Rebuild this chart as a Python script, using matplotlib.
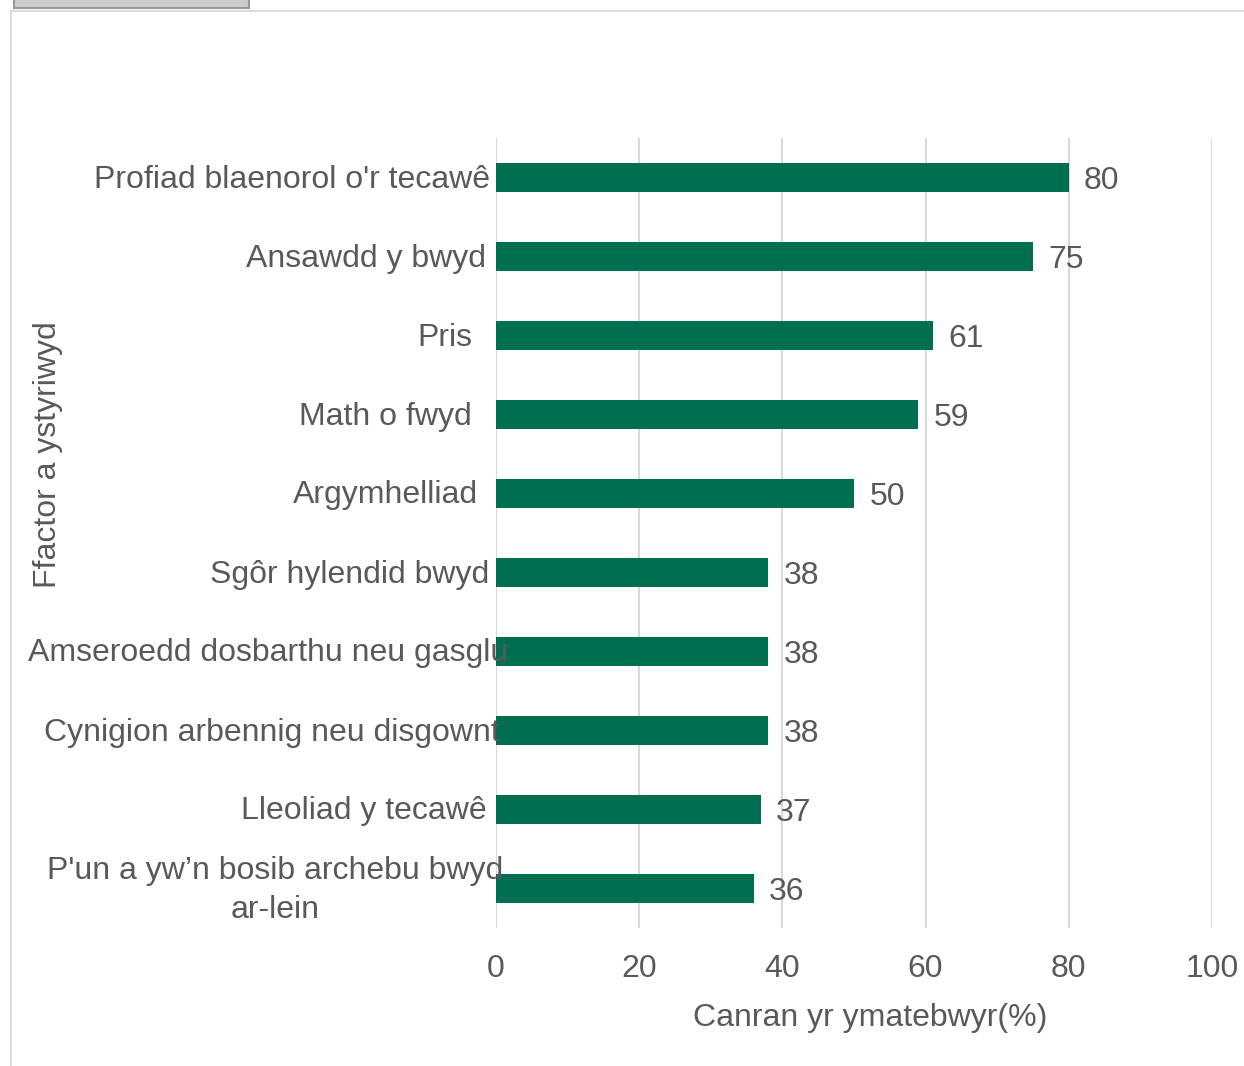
import matplotlib.pyplot as plt
from matplotlib.patches import Rectangle

plt.rcParams['font.family'] = ['Liberation Sans', 'DejaVu Sans']

# data, top to bottom as shown
factors = [
    "Profiad blaenorol o'r tecawê",
    "Ansawdd y bwyd",
    "Pris",
    "Math o fwyd",
    "Argymhelliad",
    "Sgôr hylendid bwyd",
    "Amseroedd dosbarthu neu gasglu",
    "Cynigion arbennig neu disgownt",
    "Lleoliad y tecawê",
    "P'un a yw\u2019n bosib archebu bwyd\nar-lein",
]
percent = [80, 75, 61, 59, 50, 38, 38, 38, 37, 36]
xticks = [0, 20, 40, 60, 80, 100]

text_col = '#595959'
bar_col = '#006F51'
fs = 23

# the category labels in the original are not neatly right aligned,
# long ones spill into the plot -> nudge each one (pixels from the axis)
label_nudge = [-6, -10, -24, -24, -18, -7, 12, 4, -9, 7]

fig = plt.figure(figsize=(12.44, 10.66), dpi=100)

# outer frame and grey tab like the screenshot
W, H = 1244, 1066
fig.patches.append(Rectangle((11 / W, -0.01), 1.1, 1 - 11 / H + 0.01, transform=fig.transFigure,
                             fill=False, edgecolor='#dcdcdc', linewidth=1.5))
fig.patches.append(Rectangle((14 / W, 1 - 8 / H), (249 - 14) / W, 8 / H + 0.01,
                             transform=fig.transFigure,
                             facecolor='#cccccc', edgecolor='#999999', linewidth=1.5))

ax = fig.add_axes([496 / W, 1 - 928 / H, (1212 - 496) / W, (928 - 138) / H])

y = list(range(len(factors)))
ax.barh(y, percent, height=0.36, color=bar_col, zorder=3)
ax.set_ylim(len(factors) - 0.5, -0.5)
ax.set_xlim(0, 100)

for yi, v in zip(y, percent):
    ax.annotate(str(v), (v, yi), xytext=(11, 0), textcoords='offset points',
                ha='left', va='center_baseline', fontsize=fs, color=text_col)

for yi, lab, dx in zip(y, factors, label_nudge):
    ax.annotate(lab, (0, yi), xycoords=('axes fraction', 'data'), xytext=(dx, -2),
                textcoords='offset pixels', ha='right', va='center', multialignment='center',
                linespacing=1.4, fontsize=fs, color=text_col, zorder=4, annotation_clip=False)

ax.set_xticks(xticks)
ax.set_xticklabels([str(t) for t in xticks])
ax.set_yticks(y)
ax.set_yticklabels([])
ax.tick_params(axis='both', length=0, labelsize=fs, labelcolor=text_col)
ax.tick_params(axis='x', pad=19)

ax.grid(axis='x', color='#d9d9d9', linewidth=1.5, zorder=0)
for s in ax.spines.values():
    s.set_visible(False)

ax.set_xlabel('Canran yr ymatebwyr(%)', fontsize=fs, color=text_col, labelpad=8)
ax.xaxis.set_label_coords((870 - 496) / (1212 - 496), -0.095)
fig.text(48 / W, 1 - 455 / H, 'Ffactor a ystyriwyd', rotation=90, ha='center', va='center',
         fontsize=fs, color=text_col)

fig.savefig('out.png', dpi=100)
